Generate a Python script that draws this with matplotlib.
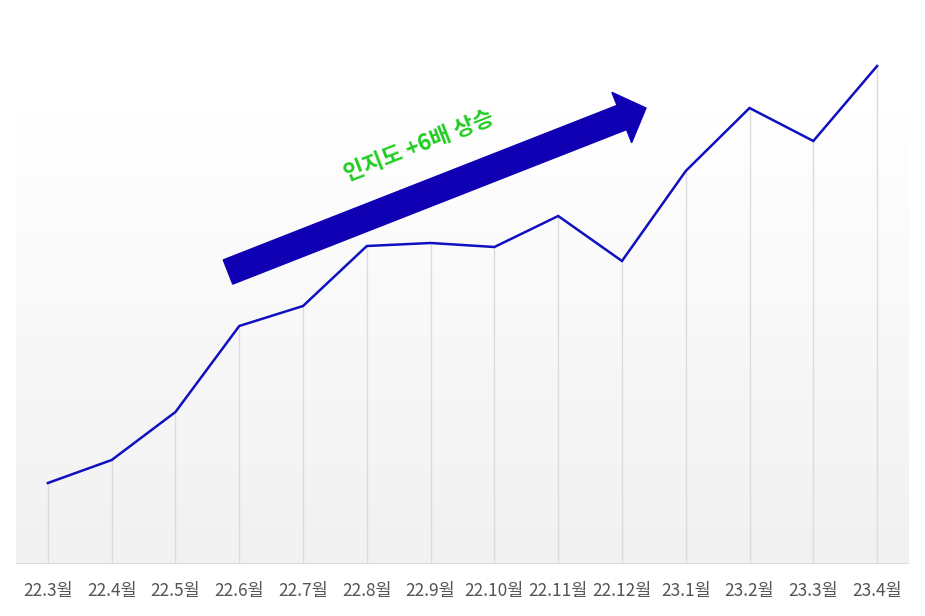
import numpy as np
import matplotlib
matplotlib.use("Agg")
import matplotlib.pyplot as plt
from matplotlib.patches import FancyArrow
from matplotlib.colors import LinearSegmentedColormap
from matplotlib.transforms import IdentityTransform

plt.rcParams['font.family'] = ['Noto Sans CJK KR', 'DejaVu Sans']

months = ["22.3월", "22.4월", "22.5월", "22.6월", "22.7월", "22.8월", "22.9월",
          "22.10월", "22.11월", "22.12월", "23.1월", "23.2월", "23.3월", "23.4월"]
awareness = [81, 104, 152, 238, 258, 318, 321, 317, 348, 303, 393, 456, 423, 498]
annotation = "인지도 +6배 상승"

W, H = 925, 616
fig = plt.figure(figsize=(W / 100, H / 100), dpi=100)
fig.patch.set_facecolor("white")
ax = fig.add_axes([16 / W, (H - 564) / H, (909 - 16) / W, (564 - 20) / H])

x = np.arange(len(months))
ax.set_xlim(-0.5, len(months) - 0.5)
ax.set_ylim(0, 544)

# background gradient
cmap = LinearSegmentedColormap.from_list("bg", ["#f1f1f1", "#ffffff"])
grad = np.linspace(0, 1, 256).reshape(-1, 1)
ax.imshow(grad, cmap=cmap, aspect="auto", origin="lower",
          extent=(-0.5, len(months) - 0.5, 0, 456), zorder=0)
ax.set_facecolor("white")

# drop lines
ax.vlines(x, 0, awareness, colors="#dcdcdc", linewidth=1.0, zorder=1)
ax.axhline(0, color="#dcdcdc", linewidth=1.5, zorder=2)

ax.plot(x, awareness, color="#1010c0", linewidth=1.8, zorder=3,
        solid_joinstyle="miter")

for s in ax.spines.values():
    s.set_visible(False)
ax.set_yticks([])
ax.set_xticks(x)
ax.set_xticklabels(months, fontsize=12.5, color="#555555")
ax.tick_params(axis="x", length=0, pad=13)

# big arrow (display pixel coordinates)
tail = (228, H - 272)
tip = (646, H - 108)
dx, dy = tip[0] - tail[0], tip[1] - tail[1]
arrow = FancyArrow(tail[0], tail[1], dx, dy, width=26, head_width=54,
                   head_length=26, length_includes_head=True,
                   color="#1000b4", transform=IdentityTransform(), zorder=4)
fig.patches.append(arrow)
arrow.set_figure(fig)

ang = np.degrees(np.arctan2(dy, dx))
ax.text((419 - 16) / (909 - 16), (564 - 146) / 544, annotation,
        transform=ax.transAxes, rotation=ang, rotation_mode="anchor",
        ha="center", va="center", fontsize=16, fontweight="bold",
        color="#22cc22", zorder=5)

fig.savefig("out.png", dpi=100)
